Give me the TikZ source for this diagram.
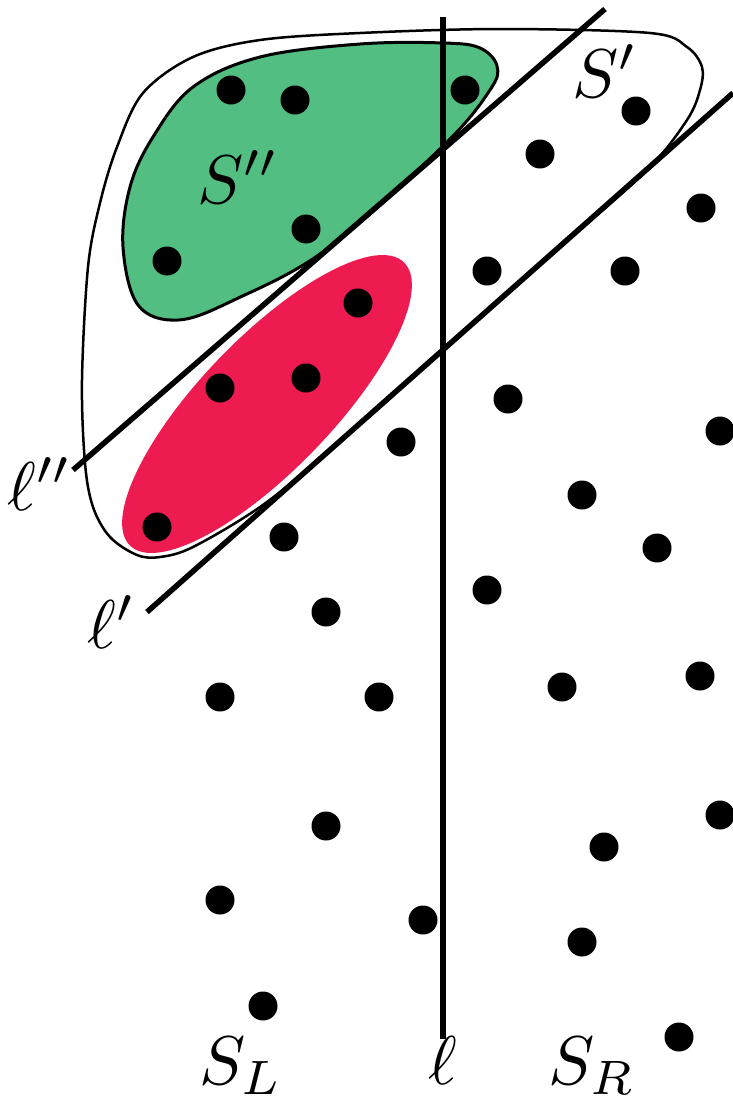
\documentclass[tikz,border=0pt]{standalone}
\definecolor{sgreen}{RGB}{82,190,130}
\definecolor{sred}{RGB}{237,27,80}
\tikzset{
  pt/.style={circle,fill=black,inner sep=0pt,minimum size=29pt},
  lab/.style={scale=6.9,inner sep=0pt,anchor=base},
  sepline/.style={line width=5.5pt},
  region/.style={line width=2.5pt}
}
\begin{document}
\begin{tikzpicture}[x=1pt,y=-1pt]
\useasboundingbox (0,0) rectangle (733,1104);
% outer set S'
\draw[region] plot[smooth cycle,tension=0.55] coordinates{
 (260,40) (360,33) (500,29) (650,33) (687,47) (702,67) (700,90) (687,120) (647,170)
 (560,247) (467,329) (400,388) (327,453) (260,507) (193,547) (160,557) (137,555) (110,537)
 (93,507) (85,463) (82,380) (88,267) (100,203) (117,147) (143,93) (193,57)};
% green set S''
\draw[line width=3pt,fill=sgreen] plot[smooth cycle,tension=0.6] coordinates{
 (260,57) (360,44) (444,43) (480,48) (497,66) (490,90) (444,145) (327,249) (234,300) (178,320)
 (138,305) (123,247) (130,187) (153,137) (193,87)};
% red ellipse
\fill[sred,rotate around={46:(267,404)}] (267,404) ellipse[x radius=197pt,y radius=66pt];
% lines
\coordinate (l2a) at (73,470); \coordinate (l2b) at (605,9);
\coordinate (l1a) at (147,612); \coordinate (l1b) at (733,93);
\coordinate (la) at (443,17); \coordinate (lb) at (443,1039);
\draw[sepline] (l2a) -- (l2b);
\draw[sepline] (l1a) -- (l1b);
\draw[sepline] (la) -- (lb);
% points
\foreach \p [count=\i] in {(231,90),(295,100),(465,90),(636,111),(540,154),(167,261),(306,229),(701,208),
 (487,271),(625,271),(358,303),(220,388),(306,378),(508,399),(720,431),(401,442),(582,495),(157,527),
 (284,537),(657,548),(326,612),(487,590),(220,697),(379,697),(562,687),(700,676),(720,815),(326,826),
 (604,847),(220,900),(423,920),(582,942),(263,1006),(679,1037)}
  \node[pt] (d\i) at \p {};
% labels
\node[lab] (sdd) at (238,203) {$S''$};
\node[lab] (sd) at (605,97) {$S'$};
\node[lab] (ldd) at (40,510) {$\ell''$};
\node[lab] (ld) at (112,648) {$\ell'$};
\node[lab] (sl) at (241,1084) {$S_L$};
\node[lab] (l) at (443,1084) {$\ell$};
\node[lab] (sr) at (592,1084) {$S_R$};
\end{tikzpicture}
\end{document}
